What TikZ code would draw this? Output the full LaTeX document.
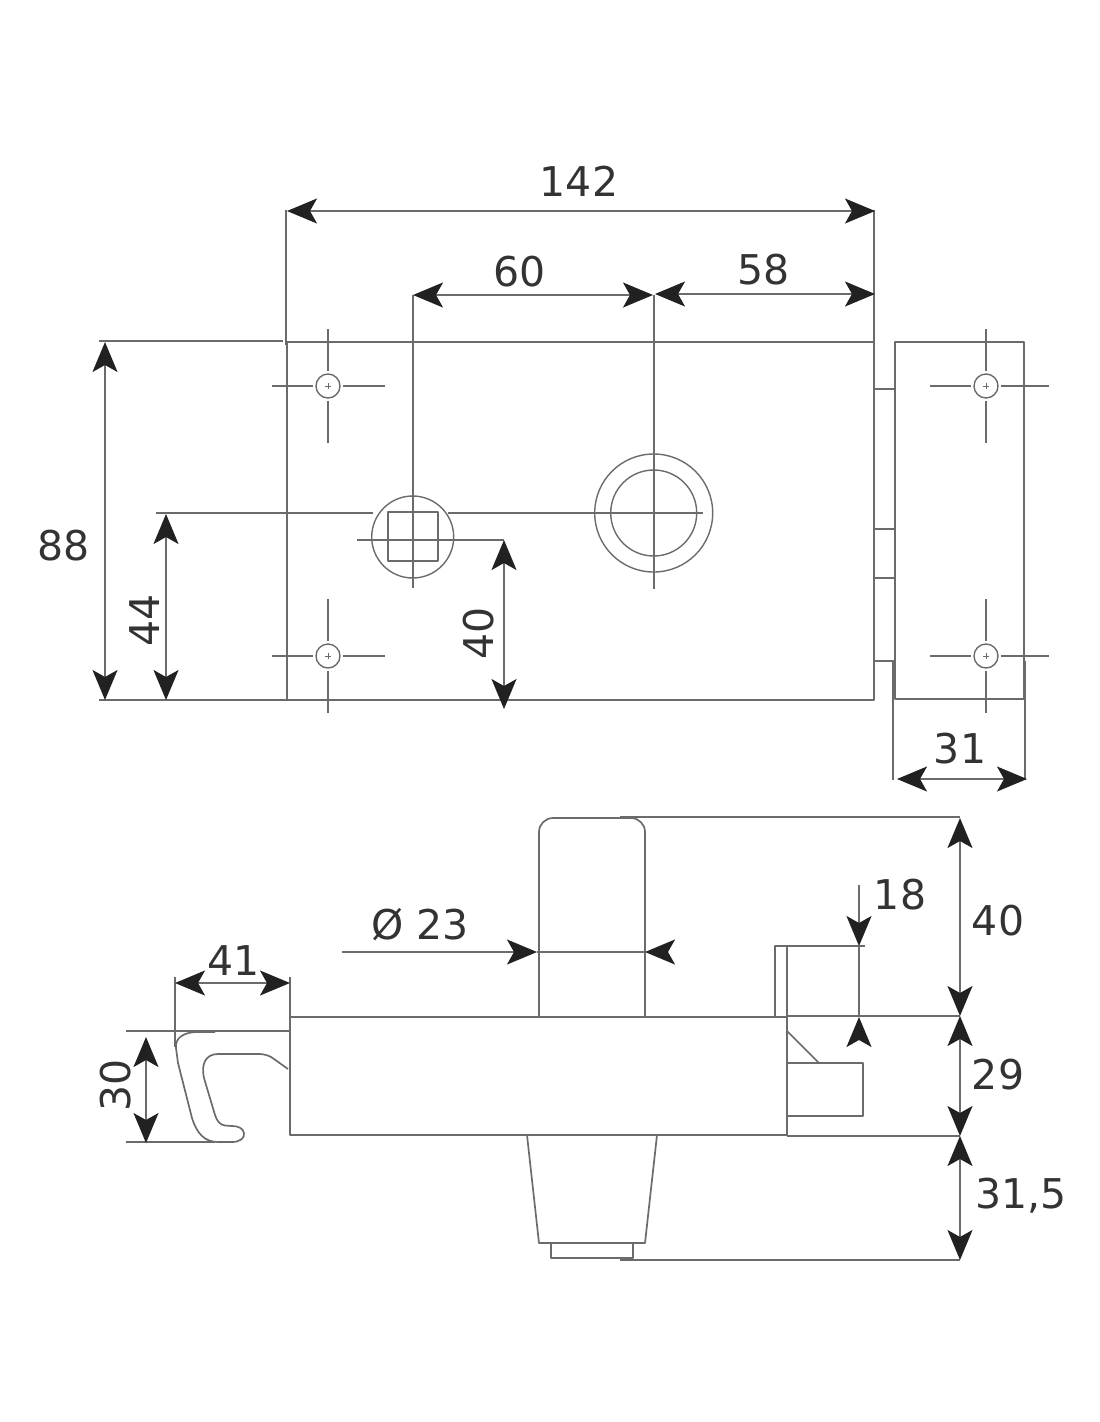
\documentclass[tikz,border=0pt]{standalone}
\usepackage{fontspec}
\setmainfont{DejaVu Sans}
\usetikzlibrary{arrows.meta, positioning}
\definecolor{lineg}{gray}{0.42}
\definecolor{headg}{gray}{0.13}
\begin{document}
\begin{tikzpicture}[x=1pt,y=-1pt,line join=round,
  part/.style={draw=lineg, line width=1.7pt},
  thin part/.style={draw=lineg, line width=1.4pt},
  hole/.style={circle, draw=lineg, line width=1.4pt, inner sep=0pt, minimum size=24pt},
  dim/.style={draw=lineg, line width=1.7pt, {Stealth[length=30pt,width=25pt,inset=7pt,color=headg]}-{Stealth[length=30pt,width=25pt,inset=7pt,color=headg]}},
  tip/.style={draw=lineg, line width=1.7pt, -{Stealth[length=30pt,width=25pt,inset=7pt,color=headg]}},
  num/.style={text=black!80, font=\fontsize{41}{41}\selectfont, inner sep=0pt}]
  \useasboundingbox (0,0) rectangle (1100,1422);

  % top view
  \coordinate (ba) at (287,342);
  \coordinate (bb) at (874,700);
  \coordinate (pa) at (895,342);
  \coordinate (pb) at (1024,699);
  \draw[part] (ba) rectangle (bb);
  \draw[part] (pa) rectangle (pb);
  \foreach \y in {389,529,578,661}
    \draw[part] (874,\y) -- (895,\y);

  \foreach \name/\x/\y/\r in {s1/328/386/57,s2/328/656/57,s3/986/386/63,s4/986/656/63} {
    \node[hole] (\name) at (\x,\y) {};
    \draw[thin part] (\x-56,\y) -- ([xshift=-2pt]\name.west);
    \draw[thin part] ([xshift=2pt]\name.east) -- (\x+\r,\y);
    \draw[thin part] (\x,\y-57) -- ([yshift=2pt]\name.north);
    \draw[thin part] ([yshift=-2pt]\name.south) -- (\x,\y+57);
    \draw[draw=lineg, line width=1pt] (\x-3,\y) -- (\x+3,\y) (\x,\y-3) -- (\x,\y+3);
  }

  \node[circle, draw=lineg, line width=1.4pt, inner sep=0pt, minimum size=82pt] (sq) at (412.7,537) {};
  \node[draw=lineg, line width=1.7pt, inner sep=0pt, minimum width=50pt, minimum height=49pt] (sqin) at (413,536.5) {};
  \node[circle, draw=lineg, line width=1.4pt, inner sep=0pt, minimum size=118pt] (cyl) at (653.7,513) {};
  \node[circle, draw=lineg, line width=1.4pt, inner sep=0pt, minimum size=86pt] (cylin) at (653.7,513) {};

  % centre lines
  \draw[thin part] (156,513) -- (373,513);
  \draw[thin part] (448,513) -- (703,513);
  \draw[thin part] (357,540) -- (504,540);
  \draw[part] (412.7,295) -- (412.7,588);
  \draw[part] (653.7,295) -- (653.7,589);

  % extension lines
  \draw[part] (286,210) -- (286,345);
  \draw[part] (874,210) -- (874,348);
  \draw[part] (99,341) -- (283,341);
  \draw[part] (99,700) -- (287,700);
  \draw[part] (893,661) -- (893,780);
  \draw[part] (1025,661) -- (1025,780);

  % dimensions of the top view
  \coordinate (a142) at (287,211);
  \coordinate (b142) at (875,211);
  \coordinate (a60) at (413,295);
  \coordinate (b60) at (653,295);
  \coordinate (a58) at (655,294);
  \coordinate (b58) at (875,294);
  \coordinate (a88) at (105,342);
  \coordinate (b88) at (105,700);
  \coordinate (a44) at (166,514);
  \coordinate (b44) at (166,700);
  \coordinate (a40) at (504,540);
  \coordinate (b40) at (504,709);
  \coordinate (a31) at (897,779);
  \coordinate (b31) at (1027,779);
  \draw[dim] (a142) -- (b142);
  \draw[dim] (a60) -- (b60);
  \draw[dim] (a58) -- (b58);
  \draw[dim] (a88) -- (b88);
  \draw[dim] (a44) -- (b44);
  \draw[dim] (a40) -- (b40);
  \draw[dim] (a31) -- (b31);
  \node[num] (t142) at (579,181) {142};
  \node[num] (t60) at (520,272) {60};
  \node[num] (t58) at (764,270) {58};
  \node[num] (t88) at (64,546) {88};
  \node[num, rotate=90] (t44) at (145,620) {44};
  \node[num, rotate=90] (t40) at (479,633) {40};
  \node[num] (t31) at (960,749) {31};

  % side view
  \coordinate (ca) at (290,1017);
  \coordinate (cb) at (787,1135);
  \draw[part] (ca) rectangle (cb);
  \draw[part, rounded corners=14pt] (539,1017) -- (539,818) -- (645,818) -- (645,1017);
  \draw[part] (527,1135) -- (539,1243) -- (645,1243) -- (657,1135);
  \draw[part] (551,1243) -- (551,1258) -- (633,1258) -- (633,1243);
  \draw[part] (787,1017) -- (775,1017) -- (775,946) -- (787,946) -- (787,1017);
  \draw[part] (787,1031) -- (819,1063);
  \draw[part] (787,1063) -- (863,1063) -- (863,1116) -- (787,1116);

  % hook
  \draw[part] (215,1032) -- (195,1032) .. controls (183,1033) and (175,1038) .. (176,1048) -- (178,1063) -- (192,1118)
    .. controls (197,1134) and (205,1142) .. (218,1142) -- (232,1142) .. controls (240,1142) and (245,1138) .. (244,1133)
    .. controls (243,1128) and (238,1126) .. (232,1126) -- (225,1125.5) .. controls (220,1125) and (217,1121) .. (215,1115)
    -- (204,1078) .. controls (201,1065) and (205,1054) .. (218,1054) -- (258,1054) .. controls (266,1054) and (270,1056) .. (274,1059) -- (288,1069);

  % extension lines
  \draw[part] (620,817) -- (960,817);
  \draw[part] (775,946) -- (865,946);
  \draw[part] (787,1016) -- (960,1016);
  \draw[part] (787,1136) -- (960,1136);
  \draw[part] (620,1260) -- (960,1260);
  \draw[part] (175,977) -- (175,1047);
  \draw[part] (290,977) -- (290,1047);
  \draw[part] (126,1031) -- (290,1031);
  \draw[part] (126,1142) -- (215,1142);

  % dimensions of the side view
  \coordinate (a40s) at (960,818);
  \coordinate (b40s) at (960,1016);
  \coordinate (a29) at (960,1016);
  \coordinate (b29) at (960,1136);
  \coordinate (a315) at (960,1136);
  \coordinate (b315) at (960,1260);
  \coordinate (a41) at (175,983);
  \coordinate (b41) at (290,983);
  \coordinate (a30) at (146,1037);
  \coordinate (b30) at (146,1143);
  \draw[dim] (a40s) -- (b40s);
  \draw[dim] (a29) -- (b29);
  \draw[dim] (a315) -- (b315);
  \draw[dim] (a41) -- (b41);
  \draw[dim] (a30) -- (b30);

  \coordinate (a18) at (859,885);
  \coordinate (m18) at (859,946);
  \coordinate (c18) at (859,1040);
  \coordinate (b18) at (859,1017);
  \draw[tip] (a18) -- (m18);
  \draw[part] (m18) -- (b18);
  \draw[tip] (c18) -- (b18);

  \coordinate (aphi) at (342,952);
  \coordinate (mphi) at (537,952);
  \coordinate (nphi) at (645,952);
  \coordinate (bphi) at (668,952);
  \draw[tip] (aphi) -- (mphi);
  \draw[part] (mphi) -- (nphi);
  \draw[tip] (bphi) -- (nphi);

  \node[num] (t18) at (900,895) {18};
  \node[num] (t40s) at (998,921) {40};
  \node[num] (t29) at (998,1075) {29};
  \node[num] (t315) at (1021,1196) {31,5};
  \node[num] (t23) at (420,925) {Ø 23};
  \node[num] (t41) at (234,961) {41};
  \node[num, rotate=90] (t30) at (116,1085) {30};
\end{tikzpicture}
\end{document}
